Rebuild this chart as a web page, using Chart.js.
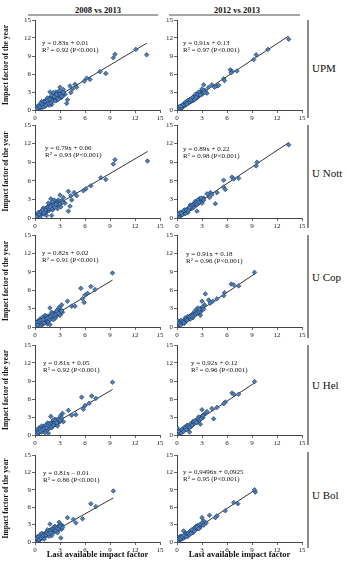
<!DOCTYPE html>
<html>
<head>
<meta charset="utf-8">
<script src="https://cdn.jsdelivr.net/npm/chart.js@4.4.1/dist/chart.umd.min.js"></script>
<style>
  body { margin: 0; width: 350px; height: 564px; background: #fff; position: relative; overflow: hidden;
         font-family: "Liberation Serif", "DejaVu Serif", serif; color: #111; }
  canvas { position: absolute; }
  .head { position: absolute; top: 5px; width: 120px; text-align: center; font-weight: bold; font-size: 8.5px; }
  .hline { position: absolute; top: 14px; height: 2px; background: #a6a6a6; }
  .vline { position: absolute; left: 307px; width: 2px; background: #8c8c8c; }
  .row { position: absolute; left: 312px; font-size: 11px; white-space: nowrap; }
</style>
</head>
<body>
<div class="head" style="left:38px">2008 vs 2013</div>
<div class="head" style="left:177px">2012 vs 2013</div>
<div class="hline" style="left:28px;width:130px"></div>
<div class="hline" style="left:169px;width:131px"></div>

<script>
const universities = ['UPM', 'U Nott', 'U Cop', 'U Hel', 'U Bol'];
const comparisons = ['2008 vs 2013', '2012 vs 2013'];
const ticks = [0, 3, 6, 9, 12, 15];

// regression equations as printed in each panel
const slopes = [[0.83, 0.91], [0.79, 0.89], [0.82, 0.91], [0.81, 0.92], [0.81, 0.9496]];
const intercepts = [[0.01, 0.13], [0.06, 0.22], [0.02, 0.18], [0.05, 0.12], [-0.01, 0.0925]];
const eqTexts = [
  ['y = 0.83x + 0.01', 'y = 0.91x + 0.13'],
  ['y = 0.79x + 0.06', 'y = 0.89x + 0.22'],
  ['y = 0.82x + 0.02', 'y = 0.91x + 0.18'],
  ['y = 0.81x + 0.05', 'y = 0.92x + 0.12'],
  ['y = 0.81x \u2013 0.01', 'y = 0,9496x + 0,0925']
];
const r2Texts = [
  ['R\u00b2 = 0.92 (P<0.001)', 'R\u00b2 = 0.97 (P<0.001)'],
  ['R\u00b2 = 0.93 (P<0.001)', 'R\u00b2 = 0.98 (P<0.001)'],
  ['R\u00b2 = 0.91 (P<0.001)', 'R\u00b2 = 0.96 (P<0.001)'],
  ['R\u00b2 = 0.92 (P<0.001)', 'R\u00b2 = 0.96 (P<0.001)'],
  ['R\u00b2 = 0.86 (P<0.001)', 'R\u00b2 = 0.95 (P<0.001)']
];

// [last available IF, IF of 2013]
const upm08 = [[13.4,9.2],[12.1,10.1],[9.6,9.3],[9.4,8.7],[7.8,6.4],[8.5,6.1],[6.6,5.1],[6.2,5.3],[5.9,4.8],[5.0,3.8],
  [4.2,4.0],[4.5,3.5],[4.3,2.9],[3.9,1.7],[3.8,1.1],[3.4,3.4],[3.0,3.8],[4.8,4.3],[3.6,2.6],[3.2,2.1],
  [0.1,0.2],[0.2,0.5],[0.3,0.1],[0.4,0.4],[0.5,0.8],[0.6,0.3],[0.7,0.6],[0.8,1.0],[0.9,0.5],[1.0,1.3],
  [1.0,0.8],[1.1,1.5],[1.2,1.0],[1.3,1.2],[1.4,1.7],[1.5,1.1],[1.6,1.5],[1.7,1.9],[1.8,1.3],[1.8,3.0],
  [1.9,2.1],[2.0,1.6],[2.1,2.3],[2.2,1.8],[2.3,2.6],[2.4,2.0],[2.5,2.4],[2.6,1.6],[2.7,2.8],[2.8,2.2],
  [2.9,2.5],[3.0,2.0],[3.1,2.9],[3.3,2.5],[0.5,0.2],[1.2,0.6],[1.5,2.0],[2.0,0.9],[2.5,3.0],[0.8,1.4],
  [1.7,0.8],[2.2,2.9],[1.1,1.1],[1.4,1.3],[2.6,2.1],
  [0.2,0.2],[0.4,0.7],[0.6,0.5],[0.7,1.1],[0.9,0.9],[1.0,0.5],[1.2,1.4],[1.3,0.8],[1.5,1.6],[1.6,1.1],
  [1.8,1.8],[1.9,1.2],[2.0,2.4],[2.1,1.5],[2.3,2.2],[2.4,1.5],[2.6,2.6],[2.8,1.8],[3.0,2.7],[3.2,2.3],
  [3.4,2.9],[2.9,3.2]];
const upm12 = [[13.4,11.8],[10.9,10.1],[9.5,9.2],[9.2,8.4],[6.4,6.7],[6.6,6.4],[7.2,6.5],[6.5,6.2],[5.6,5.2],[5.7,4.9],
  [4.8,4.0],[4.2,4.2],[3.8,3.8],[3.6,2.8],[3.2,4.2],[4.5,3.8],[5.0,4.1],[3.4,3.3],
  [0.1,0.2],[0.2,0.3],[0.3,0.5],[0.4,0.3],[0.5,0.6],[0.6,0.8],[0.7,0.5],[0.8,0.9],[0.9,1.1],[1.0,0.9],
  [1.1,1.2],[1.2,1.4],[1.3,1.1],[1.4,1.5],[1.5,1.7],[1.6,1.4],[1.7,1.8],[1.8,2.0],[1.9,1.7],[2.0,2.1],
  [2.1,2.3],[2.2,1.9],[2.3,2.4],[2.4,2.6],[2.5,2.2],[2.6,2.7],[2.7,2.5],[2.8,2.9],[2.9,3.1],[3.0,2.6],
  [3.1,3.0],[0.3,0.2],[0.6,0.4],[1.0,1.3],[1.3,1.6],[1.8,1.5],[2.2,2.6],[2.6,3.0],[3.0,3.5],[0.9,0.7],
  [2.0,1.6],[1.5,1.3],[2.4,2.0],
  [0.2,0.5],[0.5,0.4],[0.7,0.8],[1.1,0.9],[1.4,1.2],[1.7,1.5],[1.9,2.1],[2.1,1.8],[2.3,2.1],[2.5,2.6],
  [2.8,2.5],[3.2,3.2],[3.3,2.9],[1.2,1.0],[1.6,1.7],[0.4,0.6]];
const nott08 = [[13.5,9.2],[9.6,9.4],[9.4,8.7],[7.9,6.5],[8.5,6.2],[6.7,5.2],[6.1,4.7],[5.8,4.4],[4.0,4.3],[4.3,3.6],
  [5.0,3.6],[4.4,2.9],[4.2,1.9],[4.0,1.1],[1.9,3.1],[2.0,0.4],[3.4,3.3],[3.0,3.7],[4.7,4.1],[3.6,2.4],
  [0.1,0.1],[0.2,0.4],[0.3,0.2],[0.4,0.6],[0.5,0.3],[0.6,0.9],[0.7,0.5],[0.8,1.2],[0.9,0.7],[1.0,1.0],
  [1.1,1.4],[1.1,0.6],[1.2,1.2],[1.3,1.6],[1.4,1.0],[1.5,1.4],[1.6,1.9],[1.7,1.2],[1.8,2.2],[1.9,1.6],
  [2.0,2.0],[2.1,1.3],[2.2,2.4],[2.3,1.8],[2.4,2.2],[2.5,2.7],[2.6,1.9],[2.7,2.4],[2.8,2.9],[2.9,2.1],
  [3.0,2.6],[3.1,1.8],[3.2,2.8],[0.6,0.1],[1.0,1.6],[1.4,0.4],[2.3,2.9],[2.7,1.5],[1.6,2.4],[0.4,0.9],
  [2.1,2.6],[1.2,0.9],
  [0.2,0.2],[0.5,0.6],[0.7,1.0],[0.9,1.3],[1.1,0.9],[1.3,1.3],[1.5,1.7],[1.7,1.5],[1.9,2.0],[2.0,1.5],
  [2.2,2.0],[2.4,1.7],[2.6,2.4],[2.8,2.2],[3.0,2.3],[3.3,2.5],[2.5,2.2],[1.8,1.8]];
const nott12 = [[13.4,11.8],[9.6,9.0],[9.5,8.4],[6.6,6.6],[6.8,6.3],[7.4,6.4],[5.6,6.1],[5.6,5.0],[5.8,4.6],[4.8,4.1],
  [4.0,4.1],[3.9,3.3],[4.6,2.3],[3.2,3.2],[2.4,1.1],[3.6,3.9],[4.2,3.8],
  [0.1,0.3],[0.2,0.4],[0.3,0.2],[0.4,0.6],[0.5,0.5],[0.6,0.8],[0.7,0.6],[0.8,1.0],[0.9,0.8],[1.0,1.2],
  [1.1,1.0],[1.2,1.4],[1.3,1.2],[1.4,1.6],[1.5,1.4],[1.6,1.8],[1.7,1.5],[1.8,2.0],[1.9,1.8],[2.0,2.2],
  [2.1,1.9],[2.2,2.4],[2.3,2.1],[2.4,2.6],[2.5,2.3],[2.6,2.8],[2.7,2.5],[2.8,3.0],[2.9,2.7],[3.0,3.1],
  [3.1,2.8],[0.4,0.9],[0.9,1.3],[1.3,0.9],[1.8,1.6],[2.2,2.7],[2.7,3.1],[3.0,2.4],[1.0,0.7],[1.6,2.1],
  [2.0,1.7],[2.5,2.9],
  [0.2,0.7],[0.6,0.5],[0.8,1.2],[1.1,1.3],[1.4,1.3],[1.7,1.9],[1.9,2.2],[2.1,2.3],[2.3,2.5],[2.4,2.2],
  [2.6,2.5],[2.9,3.2],[3.2,2.9],[1.5,1.7],[0.5,0.8]];
const cop08 = [[9.3,8.8],[5.5,6.3],[6.7,6.6],[7.2,6.1],[6.0,5.2],[5.7,4.6],[6.3,5.5],[5.9,4.0],[3.9,4.2],[4.4,3.4],
  [4.8,3.4],[3.2,3.6],[2.9,3.2],[1.8,3.1],[1.5,0.5],[1.8,0.4],[3.3,2.4],
  [0.1,0.3],[0.2,0.1],[0.3,0.6],[0.4,0.3],[0.4,1.0],[0.5,0.5],[0.6,1.3],[0.7,0.7],[0.8,1.1],[0.9,0.4],
  [1.0,1.5],[1.0,0.9],[1.1,1.2],[1.2,0.7],[1.3,1.6],[1.4,1.1],[1.5,1.4],[1.6,1.8],[1.7,1.2],[1.8,1.6],
  [1.9,2.0],[2.0,1.4],[2.1,1.8],[2.2,2.2],[2.3,1.6],[2.4,2.0],[2.5,2.4],[2.6,1.8],[2.7,2.2],[2.8,2.6],
  [2.9,2.0],[3.0,2.4],[3.1,2.8],[0.2,0.8],[0.6,0.2],[0.9,1.6],[1.2,1.9],[1.6,0.9],[2.0,2.4],[2.4,1.4],
  [2.7,2.8],[3.0,1.9],[1.4,1.7],[0.8,0.6],
  [0.3,0.3],[0.5,0.9],[0.7,1.1],[0.9,0.8],[1.1,0.6],[1.2,1.3],[1.4,1.4],[1.6,1.5],[1.8,1.2],[1.9,1.7],
  [2.1,2.1],[2.3,1.9],[2.5,2.1],[2.6,2.6],[2.8,2.2],[3.2,2.6],[1.0,1.2],[2.2,1.2]];
const cop12 = [[9.3,8.9],[6.5,7.0],[6.8,6.9],[7.4,6.7],[5.7,5.6],[5.6,5.1],[4.8,4.6],[4.3,4.2],[3.8,4.4],[3.4,5.4],
  [3.0,4.2],[2.8,1.9],[3.3,3.6],[4.0,3.9],
  [0.1,0.2],[0.1,1.0],[0.2,0.4],[0.3,0.3],[0.4,0.6],[0.5,0.5],[0.6,0.8],[0.7,0.6],[0.8,1.0],[0.9,0.9],
  [1.0,1.2],[1.1,1.0],[1.2,1.4],[1.3,1.2],[1.4,1.6],[1.5,1.4],[1.6,1.8],[1.7,1.6],[1.8,2.0],[1.9,1.8],
  [2.0,2.2],[2.1,2.0],[2.2,2.4],[2.3,2.1],[2.4,2.6],[2.5,2.3],[2.6,2.8],[2.7,2.5],[2.8,3.0],[2.9,2.7],
  [3.0,3.1],[0.5,1.1],[0.9,0.6],[1.3,1.7],[1.9,1.5],[2.3,2.8],[2.8,2.4],[1.0,1.5],[1.6,1.3],[2.5,3.1],
  [0.3,0.7],[2.1,2.5],
  [0.2,0.6],[0.4,0.3],[0.7,0.9],[0.8,0.7],[1.1,1.3],[1.2,1.1],[1.5,1.7],[1.7,1.9],[1.8,1.7],[2.0,1.9],
  [2.2,2.1],[2.4,2.3],[2.6,2.5],[2.7,2.9],[3.1,3.3],[3.2,2.9]];
const hel08 = [[9.3,8.8],[5.6,6.3],[6.8,6.5],[7.3,6.1],[6.0,4.9],[5.8,4.3],[6.5,5.3],[4.0,4.1],[4.4,3.3],[4.9,3.4],
  [3.3,3.6],[3.1,3.3],[1.9,3.1],[1.6,0.3],[3.4,2.2],
  [0.1,0.2],[0.2,0.5],[0.3,0.2],[0.4,0.8],[0.5,0.4],[0.5,1.2],[0.6,0.7],[0.7,1.0],[0.8,0.5],[0.9,1.3],
  [1.0,0.9],[1.1,1.5],[1.2,1.0],[1.3,1.3],[1.4,0.8],[1.5,1.6],[1.6,1.2],[1.7,1.9],[1.8,1.4],[1.9,1.7],
  [2.0,2.1],[2.1,1.5],[2.2,1.9],[2.3,2.3],[2.4,1.7],[2.5,2.1],[2.6,2.5],[2.7,1.9],[2.8,2.3],[2.9,2.7],
  [3.0,2.2],[3.1,2.6],[0.3,0.9],[0.8,1.5],[1.2,0.4],[1.5,2.0],[2.0,1.2],[2.4,2.6],[2.7,1.5],[1.0,1.2],
  [2.2,2.5],[1.7,1.1],[3.2,2.9],
  [0.2,0.1],[0.4,0.5],[0.6,1.0],[0.7,0.6],[0.9,0.9],[1.1,1.1],[1.3,1.6],[1.4,1.2],[1.6,1.6],[1.8,1.9],
  [1.9,1.3],[2.1,1.9],[2.3,2.0],[2.5,2.4],[2.6,2.0],[2.8,2.7],[3.0,2.5],[2.2,1.6]];
const hel12 = [[9.3,8.9],[6.6,7.0],[6.8,6.8],[7.4,6.8],[5.8,5.5],[5.6,5.2],[4.8,4.6],[4.2,4.4],[3.0,4.2],[4.4,2.7],
  [2.8,1.8],[0.0,1.2],[1.5,0.5],[3.6,3.9],[3.3,3.5],
  [0.1,0.2],[0.2,0.3],[0.3,0.5],[0.4,0.4],[0.5,0.6],[0.6,0.7],[0.7,0.6],[0.8,0.9],[0.9,1.0],[1.0,0.9],
  [1.1,1.2],[1.2,1.3],[1.3,1.2],[1.4,1.5],[1.5,1.6],[1.6,1.5],[1.7,1.8],[1.8,1.9],[1.9,1.8],[2.0,2.1],
  [2.1,2.2],[2.2,2.1],[2.3,2.4],[2.4,2.5],[2.5,2.4],[2.6,2.7],[2.7,2.8],[2.8,2.6],[2.9,3.0],[3.0,3.1],
  [3.1,2.9],[0.4,0.8],[0.9,1.3],[1.4,1.1],[1.9,2.2],[2.4,2.1],[2.6,3.0],[1.2,1.6],[2.0,1.8],[0.7,1.0],
  [3.2,3.3],[1.7,1.4],
  [0.2,0.6],[0.5,0.3],[0.6,0.9],[0.8,0.6],[1.0,1.2],[1.1,0.9],[1.3,1.5],[1.5,1.3],[1.6,1.8],[1.8,1.6],
  [2.0,2.3],[2.2,2.4],[2.3,2.1],[2.5,2.7],[2.7,2.5],[2.9,2.7],[3.1,3.2]];
const bol08 = [[9.4,8.8],[6.7,6.6],[7.3,6.1],[5.7,4.0],[4.9,3.3],[4.6,3.9],[3.9,4.2],[3.1,0.7],[1.8,3.1],[3.3,2.8],
  [2.9,3.4],
  [0.1,0.3],[0.2,0.1],[0.3,0.5],[0.4,0.2],[0.5,0.8],[0.6,0.4],[0.7,1.0],[0.8,0.6],[0.9,1.3],[1.0,0.8],
  [1.1,1.4],[1.2,1.0],[1.3,1.6],[1.4,1.1],[1.5,1.5],[1.6,1.9],[1.7,1.3],[1.8,1.7],[1.9,2.1],[2.0,1.5],
  [2.1,1.9],[2.2,2.3],[2.3,1.7],[2.4,2.1],[2.5,2.5],[2.6,1.9],[2.7,2.3],[2.8,2.7],[2.9,2.1],[3.0,2.5],
  [3.1,2.9],[3.2,2.2],[0.3,0.9],[0.8,1.5],[1.1,0.5],[1.5,2.1],[2.0,1.1],[2.4,2.7],[2.7,1.6],[1.2,1.3],
  [2.2,2.5],[1.7,1.0],[0.6,1.2],[3.0,3.0],
  [0.2,0.6],[0.4,0.9],[0.5,0.4],[0.7,0.7],[0.9,1.0],[1.0,1.2],[1.3,1.2],[1.4,1.6],[1.6,1.4],[1.8,2.0],
  [1.9,1.6],[2.1,2.2],[2.3,2.1],[2.5,2.0],[2.6,2.4],[2.8,2.3],[3.0,2.7],[3.3,2.5]];
const bol12 = [[9.4,8.6],[9.3,9.0],[6.8,6.8],[7.3,6.6],[5.8,5.4],[4.8,4.5],[4.6,4.2],[3.9,4.6],[3.0,4.2],[0.8,1.9],
  [3.2,3.6],[3.5,3.3],
  [0.1,0.3],[0.1,0.8],[0.2,0.2],[0.3,0.5],[0.4,0.4],[0.5,0.7],[0.6,0.5],[0.7,0.8],[0.8,0.7],[0.9,1.0],
  [1.0,0.9],[1.1,1.2],[1.2,1.1],[1.3,1.4],[1.4,1.3],[1.5,1.6],[1.6,1.5],[1.7,1.8],[1.8,1.7],[1.9,2.0],
  [2.0,1.9],[2.1,2.2],[2.2,2.1],[2.3,2.4],[2.4,2.3],[2.5,2.6],[2.6,2.5],[2.7,2.8],[2.8,2.7],[2.9,3.0],
  [3.0,2.9],[3.1,3.2],[0.5,1.0],[1.0,1.4],[1.3,1.0],[1.9,1.6],[2.3,2.7],[2.7,2.4],[1.6,1.9],[2.0,2.3],
  [0.3,0.9],[2.5,2.9],
  [0.2,0.6],[0.4,0.7],[0.6,0.9],[0.8,1.1],[1.1,0.9],[1.2,1.5],[1.4,1.6],[1.5,1.3],[1.7,1.5],[1.8,2.1],
  [2.1,1.9],[2.2,2.5],[2.4,2.6],[2.6,2.3],[2.8,3.0],[3.0,3.3],[3.2,2.9]];
const panelData = [[upm08, upm12], [nott08, nott12], [cop08, cop12], [hel08, hel12], [bol08, bol12]];

// layout: plot-area tops/bottoms per row, canvas placement per column
const plotTops = [20, 125, 235, 345, 455];
const plotBottoms = [110, 218, 327, 435, 542];
const colLeft = [0, 160];
const colWidth = [166, 148];
const yAxisWidth = [35, 17];
const padTop = 6;
const eqPos = [
  [[7, 23], [6, 23]],
  [[10, 23], [6, 24]],
  [[7, 18], [9, 19]],
  [[8, 18], [14, 18]],
  [[8, 18], [6, 17]]
];
const rowLabelY = [62, 167, 271, 379, 489];
const vSegments = [[20, 118], [125, 228], [235, 338], [345, 445], [452, 548]];

const serif = '"Liberation Serif", "DejaVu Serif", serif';

universities.forEach((u, r) => {
  const lab = document.createElement('div');
  lab.className = 'row';
  lab.style.top = rowLabelY[r] + 'px';
  lab.textContent = u;
  document.body.appendChild(lab);
  const v = document.createElement('div');
  v.className = 'vline';
  v.style.top = vSegments[r][0] + 'px';
  v.style.height = (vSegments[r][1] - vSegments[r][0]) + 'px';
  document.body.appendChild(v);
});

const equationText = {
  id: 'equationText',
  afterDatasetsDraw(chart, args, opts) {
    const { ctx, chartArea } = chart;
    ctx.save();
    ctx.font = '7px ' + serif;
    ctx.fillStyle = '#111';
    ctx.textBaseline = 'middle';
    ctx.fillText(opts.eq, chartArea.left + opts.dx, chartArea.top + opts.dy);
    ctx.fillText(opts.r2, chartArea.left + opts.dx, chartArea.top + opts.dy + 7);
    ctx.restore();
  }
};

for (let r = 0; r < 5; r++) {
  for (let c = 0; c < 2; c++) {
    const last = r === 4;
    const xH = last ? 20 : 12;
    const canvas = document.createElement('canvas');
    const h = padTop + (plotBottoms[r] - plotTops[r]) + xH;
    canvas.width = colWidth[c];
    canvas.height = h;
    canvas.style.left = colLeft[c] + 'px';
    canvas.style.top = (plotTops[r] - padTop) + 'px';
    document.body.appendChild(canvas);

    const pts = panelData[r][c];
    const xs = pts.map(p => p[0]);
    const x0 = Math.min(...xs), x1 = Math.max(...xs);
    const a = slopes[r][c], b = intercepts[r][c];

    const axisGrid = { display: true, drawOnChartArea: false, drawTicks: true, tickLength: 3, color: '#444', lineWidth: 0.8 };

    new Chart(canvas, {
      type: 'scatter',
      data: {
        datasets: [
          {
            data: pts.map(p => ({ x: p[0], y: p[1] })),
            pointStyle: 'rectRot',
            pointRadius: 2.3,
            backgroundColor: '#4b7fbe',
            borderColor: '#1d3658',
            borderWidth: 0.6
          },
          {
            data: [{ x: x0, y: a * x0 + b }, { x: x1, y: a * x1 + b }],
            showLine: true,
            pointRadius: 0,
            borderColor: '#000',
            borderWidth: 0.8
          }
        ]
      },
      options: {
        responsive: false,
        animation: false,
        events: [],
        layout: { padding: { top: padTop, right: 6, left: 0, bottom: 0 } },
        plugins: {
          legend: { display: false },
          tooltip: { enabled: false },
          equationText: { eq: eqTexts[r][c], r2: r2Texts[r][c], dx: eqPos[r][c][0], dy: eqPos[r][c][1] }
        },
        scales: {
          x: {
            type: 'linear', min: 0, max: 15,
            afterBuildTicks: s => { s.ticks = ticks.map(v => ({ value: v })); },
            afterFit: s => { s.height = xH; },
            grid: axisGrid,
            border: { display: true, color: '#444', width: 1 },
            ticks: { font: { family: serif, size: 7 }, color: '#222', padding: 1, maxRotation: 0, autoSkip: false },
            title: {
              display: last,
              text: 'Last available impact factor',
              font: { family: serif, size: 8.5, weight: 'bold' },
              color: '#111',
              padding: { top: 0, bottom: 2 }
            }
          },
          y: {
            type: 'linear', min: 0, max: 15,
            afterBuildTicks: s => { s.ticks = ticks.map(v => ({ value: v })); },
            afterFit: s => { s.width = yAxisWidth[c]; },
            grid: axisGrid,
            border: { display: true, color: '#444', width: 1 },
            ticks: { font: { family: serif, size: 7 }, color: '#222', padding: 1, autoSkip: false },
            title: {
              display: c === 0,
              text: 'Impact factor of the year',
              font: { family: serif, size: 7.5, weight: 'bold' },
              color: '#111',
              padding: { top: 2, bottom: 0 }
            }
          }
        }
      },
      plugins: [equationText]
    });
  }
}
</script>
</body>
</html>
